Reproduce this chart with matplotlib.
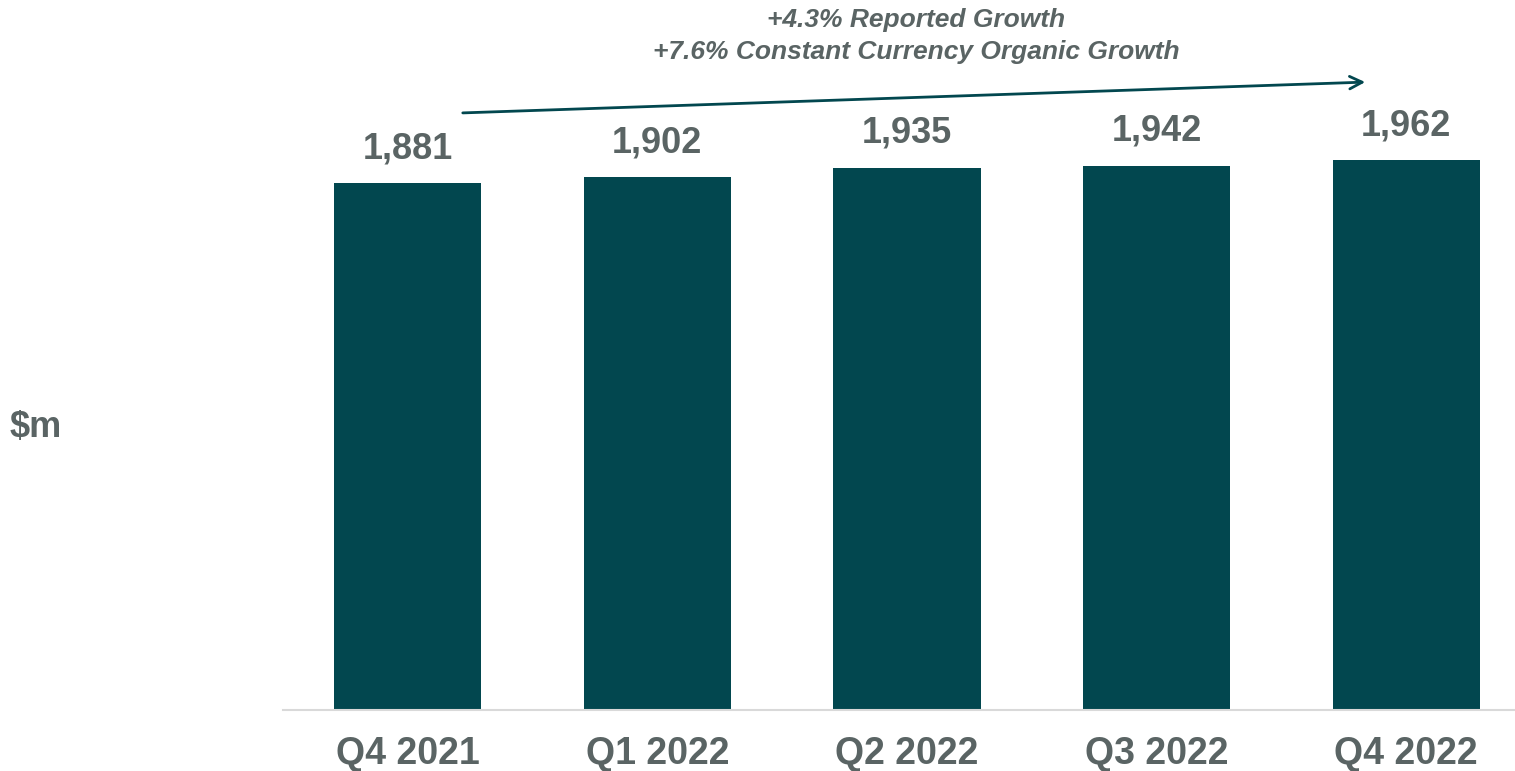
import matplotlib.pyplot as plt

plt.rcParams['font.family'] = ['Liberation Sans', 'DejaVu Sans']

quarters = ['Q4 2021', 'Q1 2022', 'Q2 2022', 'Q3 2022', 'Q4 2022']
revenue = [1881, 1902, 1935, 1942, 1962]
growth_lines = ['+4.3% Reported Growth', '+7.6% Constant Currency Organic Growth']

bar_col = '#02474F'
txt_col = '#5A6464'

fig = plt.figure(figsize=(15.15, 7.71), dpi=100)
ax = fig.add_axes([283 / 1515, 61 / 771, 1248 / 1515, 710 / 771])

bars = ax.bar(range(len(quarters)), revenue, width=0.59, color=bar_col)
for b, v in zip(bars, revenue):
    ax.annotate(f'{v:,}', (b.get_x() + b.get_width() / 2, v), xytext=(0, 12),
                textcoords='offset points', ha='center', va='bottom',
                fontsize=26, fontweight='bold', color=txt_col)

ax.set_xlim(-0.5, 4.5)
ax.set_ylim(0, 2533)
ax.set_xticks(range(len(quarters)))
ax.set_xticklabels(quarters, fontsize=27, fontweight='bold', color=txt_col)
ax.tick_params(axis='x', length=0, pad=19)
ax.set_yticks([])
for s in ['top', 'right', 'left']:
    ax.spines[s].set_visible(False)
ax.spines['bottom'].set_color('#D9D9D9')
ax.spines['bottom'].set_linewidth(1.5)
ax.spines['bottom'].set_clip_on(False)

fig.text(10 / 1515, 1 - 428 / 771, '$m', fontsize=26, fontweight='bold',
         color=txt_col, ha='left', va='center')

# growth arrow and text
ax.annotate('', xy=(1368 / 1515, 1 - 82 / 771), xytext=(460 / 1515, 1 - 113 / 771),
            xycoords='figure fraction', textcoords='figure fraction',
            arrowprops=dict(arrowstyle='->,head_length=0.9,head_width=0.45',
                            color=bar_col, lw=2))
fig.text(916 / 1515, 1 - 20 / 771, growth_lines[0], fontsize=19, fontweight='bold',
         style='italic', color=txt_col, ha='center', va='center')
fig.text(916 / 1515, 1 - 52 / 771, growth_lines[1], fontsize=19, fontweight='bold',
         style='italic', color=txt_col, ha='center', va='center')

fig.savefig('out.png', dpi=100)
